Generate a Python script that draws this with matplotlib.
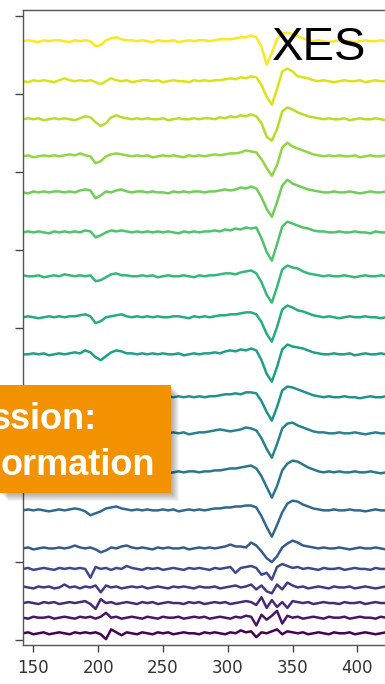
import numpy as np
import matplotlib
matplotlib.use('Agg')
from matplotlib import pyplot as plt
from matplotlib.patches import Rectangle

# eixo x (energia) e espectros diferenca, do topo (amarelo) para a base (roxo)
energia = np.arange(142, 427, 4)

t01 = [0, 1, 0, -1, 1, 0, 1, 1, 0, -1, 1, 0,
       1, 0, -5, -4, 1, 3, 4, 2, 1, 1, 0, 1,
       0, -1, 1, 0, 0, 1, -1, 0, 1, 0, 1, 1,
       0, 1, 2, 2, 2, 3, 4, 4, 6, 4, -6, -24,
       -12, 2, 8, 9, 7, 5, 3, 1, 0, 1, 0, -1,
       0, 1, 0, 0, -1, 0, 1, 0, 0, 1, 0, 0]
t02 = [0, -1, 1, 0, 1, 0, -1, 1, 3, 1, 0, 1,
       0, 1, -1, -3, 0, 3, 1, 0, 1, -1, 0, 1,
       1, 0, 1, -1, 0, 1, 0, 0, -1, 1, 0, 1,
       0, 1, 1, 2, 3, 2, 4, 3, 5, 4, -4, -16,
       -24, -8, 10, 13, 10, 5, 4, 3, 1, 0, 1, 0,
       -1, 0, 1, 0, 0, 1, -1, 0, 1, 0, 0, 0]
t03 = [0, 1, 0, 1, -1, 0, 1, 0, 1, 0, -1, 1,
       3, 2, -3, -7, -4, 2, 4, 2, 1, 0, 1, 0,
       1, 0, 0, 1, -1, 0, 1, 0, 0, 1, 0, 1,
       1, 0, 2, 1, 3, 2, 4, 3, 5, 3, -4, -18,
       -22, -10, 8, 12, 10, 7, 5, 3, 2, 1, 0, 1,
       0, 0, 1, -1, 0, 1, 0, 0, 1, 0, -1, 0]
t04 = [0, 1, -1, 0, 1, 0, 1, 0, 1, 2, 1, 3,
       1, 0, -7, -5, 0, 2, 3, 2, 1, 0, 1, 0,
       1, -1, 0, 1, 0, 1, 0, -1, 1, 0, 1, 0,
       1, 2, 1, 2, 3, 3, 4, 6, 5, 4, -3, -12,
       -20, -9, 9, 14, 10, 8, 6, 4, 2, 1, 0, 1,
       0, 1, 0, 0, 1, -1, 0, 1, 0, 0, 1, 0]
t05 = [0, -1, 1, 0, 1, 0, 1, 1, 0, 1, 0, 2,
       3, 2, -6, -3, 1, 0, 2, 3, 1, 0, 1, 1,
       0, 1, 0, 0, -1, 1, 0, 1, 0, 1, 1, 0,
       1, 1, 2, 3, 2, 3, 5, 4, 6, 4, -5, -17,
       -25, -10, 7, 13, 9, 7, 5, 3, 2, 1, 0, 0,
       1, 0, 0, 1, 0, -1, 0, 1, 0, 0, 1, 0]
t06 = [0, 1, 0, 1, 0, -1, 1, 0, 1, 0, 1, 0,
       2, 1, -5, -3, 0, 2, 1, 2, 1, 0, 1, 0,
       1, 0, 1, 0, 1, 0, -1, 1, 0, 1, 0, 1,
       1, 2, 1, 3, 2, 4, 3, 5, 4, 5, -6, -20,
       -29, -12, 6, 11, 9, 7, 5, 4, 2, 1, 1, 0,
       0, 1, 0, 0, 1, 0, 0, -1, 1, 0, 0, 1]
t07 = [1, 0, 0, 1, -1, 0, 1, 0, 2, 1, 0, 1,
       0, 1, -5, -4, -1, 2, 3, 1, 1, 0, 0, 1,
       0, 1, -1, 0, 1, 0, 0, 1, 0, -1, 1, 0,
       1, 1, 2, 3, 3, 2, 4, 5, 6, 3, -6, -19,
       -27, -11, 7, 11, 9, 8, 5, 3, 2, 1, 0, 1,
       0, 0, 1, 0, -1, 0, 1, 0, 0, 1, 0, 0]
t08 = [0, 1, 0, -1, 0, 1, 0, 1, 0, 1, 1, 2,
       3, 1, -6, -4, 0, 1, 2, 3, 1, 0, 1, 0,
       1, 0, 1, 0, 0, 1, 1, 0, -1, 1, 0, 1,
       0, 1, 2, 2, 3, 3, 4, 5, 5, 3, -5, -17,
       -25, -10, 8, 12, 10, 7, 6, 4, 2, 1, 0, 1,
       0, -1, 0, 1, 0, 0, 1, 0, 0, -1, 0, 0]
t09 = [0, 0, 1, 0, 1, -1, 0, 1, 0, 1, 2, 1,
       4, 2, -3, -6, -2, 2, 4, 3, 1, 1, 0, 1,
       0, 1, 0, 1, 0, 0, 1, -1, 0, 1, 0, 1,
       1, 2, 1, 3, 4, 3, 5, 4, 6, 4, -6, -20,
       -28, -13, 5, 10, 8, 7, 6, 4, 2, 1, 0, 0,
       1, 0, 0, 1, -1, 0, 1, 0, 0, 1, 0, 0]
t10 = [0, 1, 0, 1, 0, 0, 1, -1, 0, 1, 0, 1,
       2, 1, -4, -3, 0, 2, 2, 1, 0, 1, 0, 1,
       0, 1, 0, -1, 1, 0, 1, 0, 1, 0, 1, 0,
       1, 1, 2, 3, 3, 4, 3, 5, 5, 4, -4, -15,
       -24, -10, 7, 11, 10, 8, 6, 4, 2, 1, 0, 1,
       0, 0, 1, 0, 0, -1, 0, 1, 0, 0, 1, 0]
t11 = [1, 0, 0, 1, 0, 1, -1, 0, 1, 0, 1, 0,
       1, 2, -4, -2, 1, 2, 1, 1, 0, 1, 0, 0,
       1, 0, 1, 0, 0, 1, 0, 1, -1, 0, 1, 1,
       2, 3, 4, 3, 2, 3, 4, 6, 5, 3, -5, -16,
       -25, -11, 5, 10, 11, 8, 6, 4, 2, 1, 1, 0,
       0, 1, 0, 0, 1, 0, -1, 0, 1, 0, 0, 1]
t12 = [0, 1, 0, 0, 1, 0, 1, 0, 1, -1, 0, 1,
       2, 1, -4, -3, 0, 2, 3, 1, 1, 0, 1, 0,
       0, 1, 1, 0, -1, 0, 1, 0, 1, 1, 0, 1,
       1, 2, 2, 3, 4, 4, 5, 6, 7, 4, -4, -15,
       -26, -14, 2, 9, 12, 11, 8, 5, 3, 1, 0, 1,
       0, 1, 0, 0, 1, 0, 0, 1, 0, -1, 0, 0]
t13 = [0, 1, 0, 1, 0, -1, 0, 1, 0, 1, 2, 1,
       -1, -5, -3, -1, 2, 3, 4, 2, 1, 0, 1, 0,
       1, 0, 0, 1, 0, 1, -1, 0, 1, 0, 1, 0,
       1, 2, 2, 3, 3, 4, 4, 5, 5, 3, -6, -17,
       -27, -15, -2, 7, 10, 9, 6, 4, 2, 1, 0, 0,
       1, 0, 0, 1, 0, 0, -1, 0, 1, 0, 0, 1]
t14 = [0, 1, -1, 0, 1, 0, 0, 1, 0, 1, 3, 1,
       0, 1, -1, -4, -2, 1, 0, 2, 3, 1, 0, 1,
       0, -1, 1, 0, 1, 0, 0, 1, -1, 0, 1, 0,
       1, 0, 1, 2, 4, 2, 2, 1, 6, 3, -3, -10,
       -14, -8, 1, 5, 8, 6, 3, 2, 1, 0, 1, 0,
       0, 1, 0, -1, 0, 1, 0, 0, 1, 0, -1, 0]
t15 = [0, 1, -1, 0, 1, 0, -1, 1, 0, 1, 0, 1,
       0, -9, 2, 0, 1, -1, 1, 0, 3, 1, 0, -1,
       1, 0, 1, -1, 0, 1, 0, -1, 1, 0, 1, 0,
       -1, 1, 0, 1, 2, -4, 1, 2, 3, 1, -6, -4,
       -11, 2, 5, 3, 1, 2, 0, 1, 0, -1, 1, 0,
       0, 1, -1, 0, 1, 0, 0, -1, 1, 0, 0, 1]
t16 = [1, 0, -1, 1, 0, 1, -1, 0, 3, 0, 1, -1,
       1, 0, 2, -5, 2, 0, 1, -1, 0, 1, 0, 1,
       -1, 0, 1, 0, -1, 1, 0, 1, 0, -1, 1, 0,
       0, 1, -1, 0, 1, 2, 0, 1, 3, -2, 2, -4,
       -6, 3, -2, 5, 2, 0, 1, -1, 0, 1, 0, -1,
       1, 0, 0, 1, -1, 0, 1, 0, -1, 0, 1, 0]
t17 = [0, 1, 0, -1, 1, 0, 1, -1, 0, 1, 0, 1,
       2, -1, -6, 4, 0, 1, -1, 0, 1, 0, -1, 1,
       0, 1, -1, 0, 1, 0, 0, -1, 1, 0, 1, -1,
       0, 1, 0, 1, -1, 0, 1, 2, 1, -2, 6, -5,
       3, -4, 1, -5, 2, 1, 0, 1, -1, 0, 1, 0,
       0, -1, 1, 0, 0, 1, -1, 0, 1, 0, 0, -1]
t18 = [0, -1, 1, 0, 0, 1, -1, 0, 1, 0, -1, 1,
       0, 1, -1, 1, 5, 0, 1, -1, 0, 1, 0, -1,
       1, 0, -1, 1, 0, 0, 1, -1, 0, 1, 0, 1,
       -1, 0, 1, 0, -1, 1, 0, 2, 1, -8, 3, -2,
       2, 7, -6, 2, 0, 1, -1, 0, 1, 0, -1, 1,
       0, 0, 1, -1, 0, 1, 0, 0, -1, 1, 0, 0]
t19 = [0, 1, -1, 0, 1, -1, 0, 1, 0, -1, 1, 0,
       1, 0, 1, -1, -6, 4, 1, -2, 1, 0, -1, 1,
       0, -1, 1, 0, 1, -1, 0, 1, 0, 0, -1, 1,
       0, 1, 0, -1, 1, 0, 3, 1, 2, -4, 1, 0,
       2, 4, -1, 2, 1, 0, 1, -1, 0, 1, 0, -1,
       1, 0, 0, 1, -1, 0, 1, 0, -1, 0, 1, 0]

espectros = [t01, t02, t03, t04, t05, t06, t07, t08, t09, t10,
             t11, t12, t13, t14, t15, t16, t17, t18, t19]
deslocamentos = [614, 573, 534, 496, 459, 418, 373, 331, 293, 249,
                 212, 172, 133, 94, 73, 54, 38, 23, 7]

fig = plt.figure(figsize=(3.85, 6.84), dpi=100)
ax = fig.add_axes([23/385, 1 - 645/684, 366.8/385, 635/684])

cores = plt.cm.viridis(np.linspace(1, 0, len(espectros)))  # topo amarelo, base roxo
for esp, d, c in zip(espectros, deslocamentos, cores):
    ax.plot(energia, np.array(esp) + d, color=c, lw=1.8)

ax.set_xlim(142, 425)
ax.set_ylim(-5, 646)
ax.set_xticks([150, 200, 250, 300, 350, 400])
ax.set_yticks(np.arange(0, 641, 80))
ax.tick_params(axis='y', labelleft=False, length=6, width=1, color='#444444')
ax.tick_params(axis='x', length=5, width=1, color='#444444', labelsize=12,
               labelcolor='#333333', pad=5)
for s in ax.spines.values():
    s.set_color('#555555')
    s.set_linewidth(1)

ax.text(0.707, 1 - 60/684, 'XES', transform=fig.transFigure, fontsize=34,
        family='Liberation Sans', color='black', va='baseline', ha='left', zorder=5)

# caixa laranja com sombra
x0, y0, w, h = 0, 1 - 493/684, 171/385, 108/684
for k in range(1, 9):
    fig.add_artist(Rectangle((x0 + k/385, y0 - k/684), w, h, transform=fig.transFigure,
                             color='black', alpha=0.045, lw=0, zorder=9))
fig.add_artist(Rectangle((x0, y0), w, h, transform=fig.transFigure,
                         color='#F39200', lw=0, zorder=10))
fig.text(97/385, 1 - 429/684, 'ssion:', fontsize=26, fontweight='bold', color='white',
         family='Liberation Sans', ha='right', va='baseline', zorder=11)
fig.text(155/385, 1 - 475/684, 'ormation', fontsize=26, fontweight='bold', color='white',
         family='Liberation Sans', ha='right', va='baseline', zorder=11)

fig.savefig('out.png', dpi=100)
